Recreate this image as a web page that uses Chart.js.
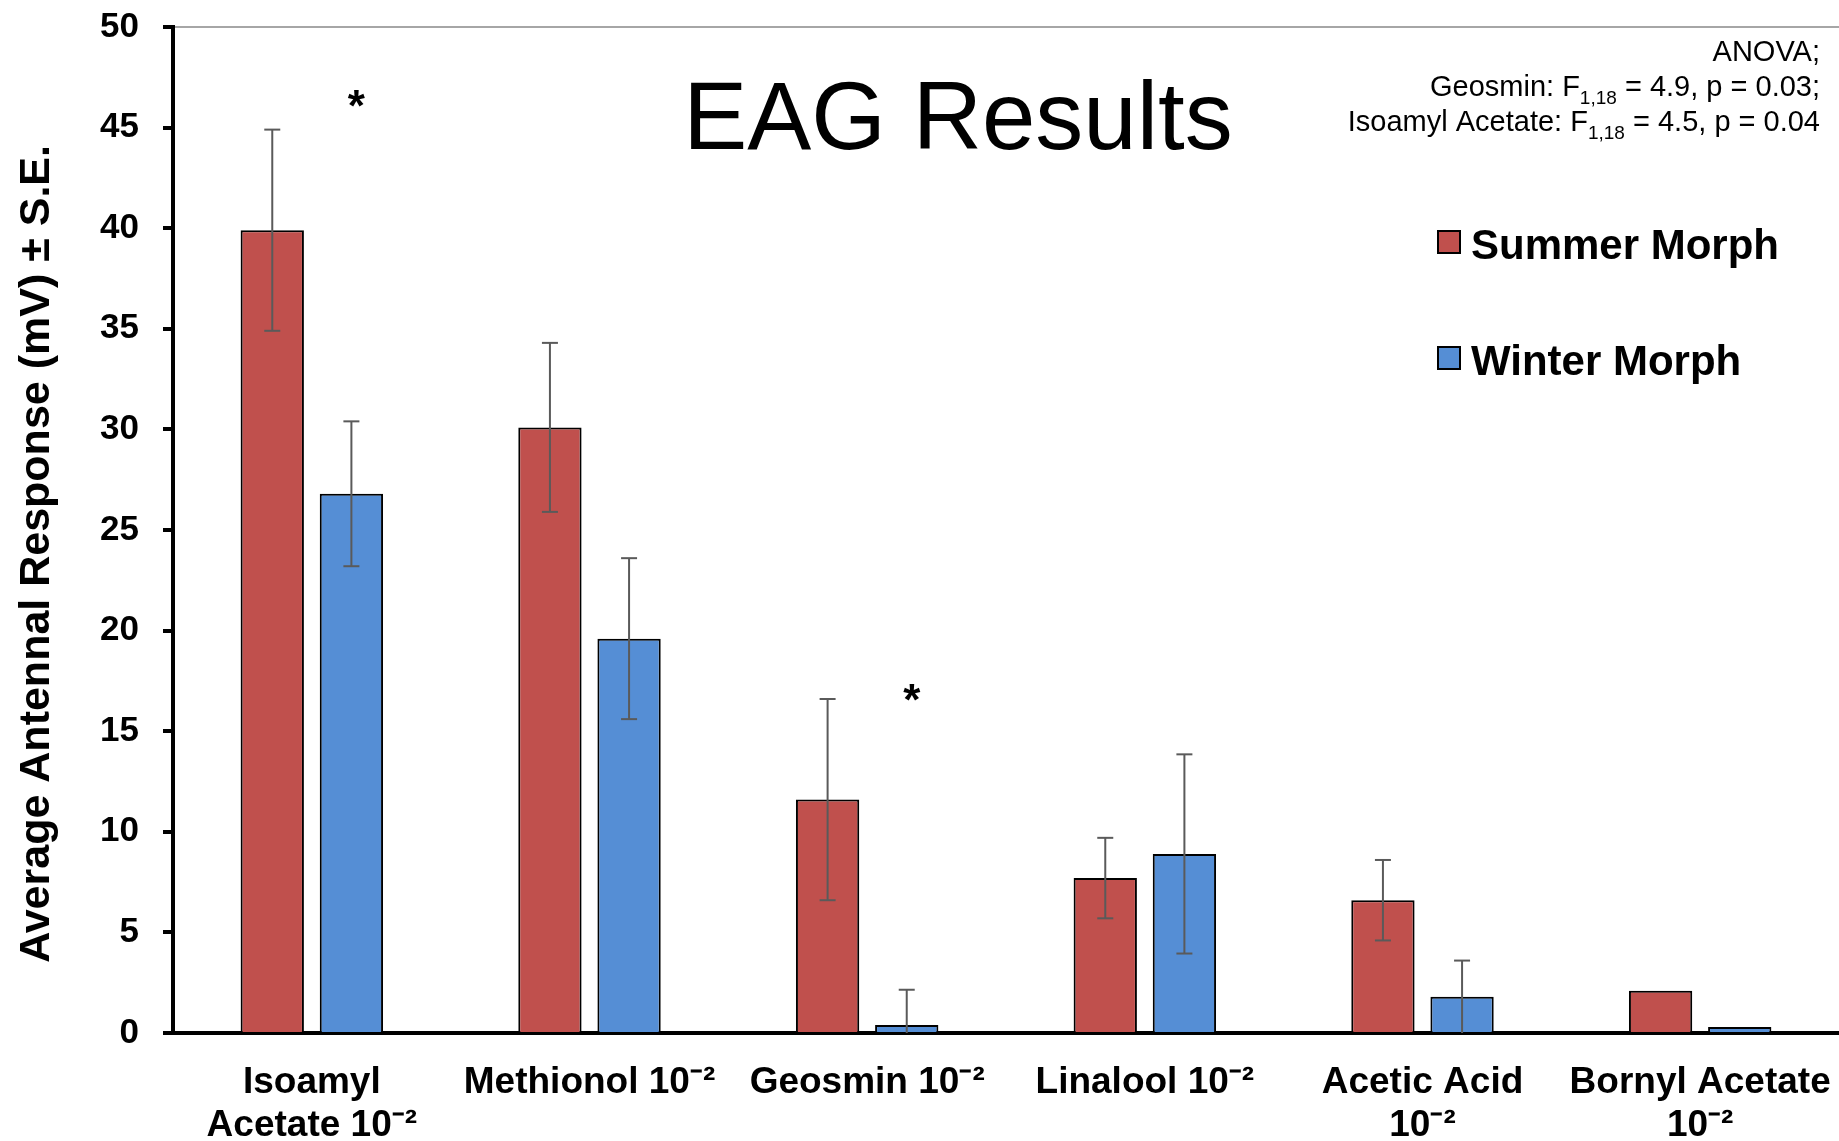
<!DOCTYPE html>
<html><head><meta charset="utf-8">
<script src="https://cdn.jsdelivr.net/npm/chart.js@4.4.1/dist/chart.umd.min.js"></script>
<style>html,body{margin:0;padding:0;background:#fff;overflow:hidden}#wrap{width:1839px;height:1141px;position:relative}</style>
</head><body><div id="wrap"><canvas id="c" width="1839" height="1141"></canvas></div>
<script>
const categories = [["Isoamyl","Acetate 10⁻²"], "Methionol 10⁻²", "Geosmin 10⁻²", "Linalool 10⁻²", ["Acetic Acid","10⁻²"], ["Bornyl Acetate","10⁻²"]];
const seriesNames = ["Summer Morph", "Winter Morph"];
const summerMeans = [39.9, 30.1, 11.6, 7.7, 6.6, 2.1];
const winterMeans = [26.8, 19.6, 0.4, 8.9, 1.8, 0.3];
const summerSE = [5.0, 4.2, 5.0, 2.0, 2.0, null];
const winterSE = [3.6, 4.0, 1.75, 4.95, 1.8, null];
const yMin = 0, yMax = 50, yStep = 5;
const yTitle = "Average Antennal Response (mV) ± S.E.";
const chartTitle = "EAG Results";
const sigMarks = [{category: 0, series: 1, value: 46.5}, {category: 2, series: 1, value: 17.0}];
const anovaLines = [
  [["ANOVA;", false]],
  [["Geosmin: F", false], ["1,18", true], [" = 4.9, p = 0.03;", false]],
  [["Isoamyl Acetate: F", false], ["1,18", true], [" = 4.5, p = 0.04", false]]
];

const FONT = "'Liberation Sans', Arial, sans-serif";
const seColors = '#5a5a5a';

const overlay = {
  id: 'overlay',
  afterDatasetsDraw(chart) {
    const ctx = chart.ctx, ys = chart.scales.y;
    const seSets = [summerSE, winterSE];
    ctx.save();
    ctx.strokeStyle = seColors; ctx.lineWidth = 2;
    seSets.forEach((seArr, di) => {
      const meta = chart.getDatasetMeta(di);
      const vals = chart.data.datasets[di].data;
      meta.data.forEach((bar, i) => {
        const se = seArr[i];
        if (se == null) return;
        const v = vals[i];
        const top = ys.getPixelForValue(v + se);
        const lowV = v - se;
        const bot = ys.getPixelForValue(Math.max(lowV, 0));
        ctx.beginPath(); ctx.moveTo(bar.x, top); ctx.lineTo(bar.x, bot); ctx.stroke();
        ctx.beginPath(); ctx.moveTo(bar.x - 8, top); ctx.lineTo(bar.x + 8, top); ctx.stroke();
        if (lowV > 0) { ctx.beginPath(); ctx.moveTo(bar.x - 8, bot); ctx.lineTo(bar.x + 8, bot); ctx.stroke(); }
      });
    });
    ctx.restore();
  },
  afterDraw(chart) {
    const ctx = chart.ctx, ys = chart.scales.y;
    ctx.save();
    ctx.fillStyle = '#000';
    ctx.font = "96px " + FONT;
    ctx.textAlign = 'center'; ctx.textBaseline = 'alphabetic';
    ctx.fillText(chartTitle, 958, 149);
    const mainF = "29px " + FONT, subF = "19px " + FONT;
    const baselines = [61, 96, 131];
    anovaLines.forEach((runs, li) => {
      let total = 0;
      const ws = runs.map(r => { ctx.font = r[1] ? subF : mainF; const w = ctx.measureText(r[0]).width; total += w; return w; });
      let x = 1820 - total;
      ctx.textAlign = 'left';
      runs.forEach((r, k) => {
        ctx.font = r[1] ? subF : mainF;
        ctx.fillText(r[0], x, baselines[li] + (r[1] ? 8 : 0));
        x += ws[k];
      });
    });
    const legY = [231, 347];
    chart.data.datasets.forEach((ds, i) => {
      ctx.fillStyle = ds.backgroundColor;
      ctx.fillRect(1438, legY[i], 22, 22);
      ctx.strokeStyle = '#000'; ctx.lineWidth = 2;
      ctx.strokeRect(1438, legY[i], 22, 22);
      ctx.fillStyle = '#000';
      ctx.font = "bold 42px " + FONT;
      ctx.textAlign = 'left';
      ctx.fillText(ds.label, 1471, legY[i] + 28);
    });
    ctx.font = "bold 44px " + FONT;
    ctx.textAlign = 'center';
    sigMarks.forEach(m => {
      const bar = chart.getDatasetMeta(m.series).data[m.category];
      const y = ys.getPixelForValue(m.value);
      ctx.fillText('*', bar.x + 5, y + 24);
    });
    ctx.restore();
  }
};

new Chart(document.getElementById('c'), {
  type: 'bar',
  data: {
    labels: categories,
    datasets: [
      {label: seriesNames[0], data: summerMeans, backgroundColor: '#C0504D', borderColor: '#000', borderWidth: 2},
      {label: seriesNames[1], data: winterMeans, backgroundColor: '#558ED5', borderColor: '#000', borderWidth: 2}
    ]
  },
  options: {
    responsive: false, animation: false, devicePixelRatio: 1,
    categoryPercentage: 0.57, barPercentage: 0.8,
    layout: {padding: {top: 27, right: 0, bottom: 0, left: 0}},
    plugins: {legend: {display: false}, tooltip: {enabled: false}, title: {display: false}},
    scales: {
      x: {
        grid: {display: false, drawTicks: false},
        border: {color: '#000', width: 4},
        ticks: {color: '#000', font: {family: FONT, size: 37, weight: 'bold', lineHeight: 1.15}, padding: 29, maxRotation: 0, autoSkip: false},
        afterFit: s => { s.height = 108; s.paddingLeft = 0; s.paddingRight = 0; }
      },
      y: {
        min: yMin, max: yMax,
        ticks: {stepSize: yStep, color: '#000', font: {family: FONT, size: 35, weight: 'bold'}, padding: 24},
        grid: {color: c => (c.tick && c.tick.value === yMax) ? '#a6a6a6' : 'rgba(0,0,0,0)', lineWidth: 2, tickColor: '#000', tickWidth: 4, tickLength: 10},
        border: {color: '#000', width: 4},
        title: {display: true, text: yTitle + "\u00a0\u00a0\u00a0\u00a0", color: '#000', font: {family: FONT, size: 43, weight: 'bold'}, padding: {top: 11, bottom: 0}},
        afterFit: s => { s.width = 173; s.paddingTop = 0; s.paddingBottom = 0; }
      }
    }
  },
  plugins: [overlay]
});
</script></body></html>
